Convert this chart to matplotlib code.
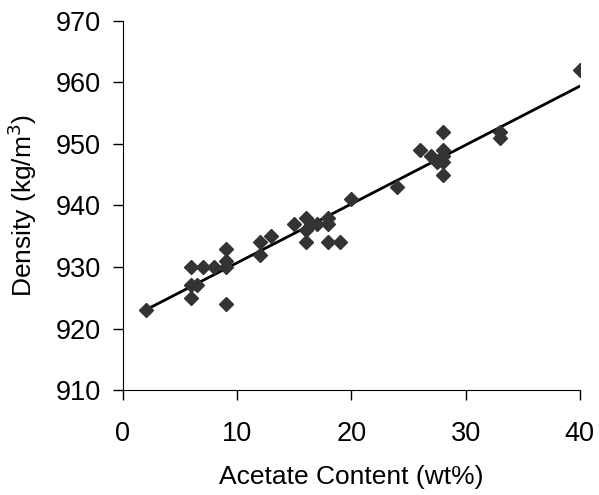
import matplotlib.pyplot as plt
import numpy as np

plt.rcParams['font.family'] = ['Liberation Sans', 'DejaVu Sans']

# Acetate content (wt%) and density (kg/m3)
acetate = [2, 6, 6, 6, 6.5, 7, 8, 9, 9, 9, 9,
           12, 12, 13, 15, 16, 16, 16, 16.5, 17, 18, 18, 18, 19, 20,
           24, 26, 27, 27.5, 28, 28, 28, 28, 28, 33, 33, 40]
density = [923, 930, 927, 925, 927, 930, 930, 933, 931, 930, 924,
           934, 932, 935, 937, 938, 936, 934, 937, 937, 938, 937, 934, 934, 941,
           943, 949, 948, 947, 952, 949, 948, 947, 945, 952, 951, 962]

x = np.array(acetate)
y = np.array(density)
k, b = np.polyfit(x, y, 1)
xl = np.array([x.min(), x.max()])

fig = plt.figure(figsize=(5.99, 4.95), dpi=100)
ax = fig.add_axes([0.205, 0.212, 0.763, 0.746])

ax.plot(xl, k * xl + b, color='black', linewidth=2, zorder=2)
ax.plot(x, y, linestyle='none', marker='D', markersize=7, color='#333333', zorder=3)

ax.set_xlim(0, 40)
ax.set_ylim(910, 970)
ax.set_xticks(range(0, 41, 10))
ax.set_yticks(range(910, 971, 10))
ax.tick_params(labelsize=19.5, direction='out', length=7, width=1)
ax.tick_params(axis='x', pad=15)
ax.tick_params(axis='y', pad=9)
ax.spines['top'].set_visible(False)
ax.spines['right'].set_visible(False)

ax.set_xlabel('Acetate Content (wt%)', fontsize=19, labelpad=13)
ax.set_ylabel('Density (kg/m$^3$)', fontsize=19, labelpad=12)

fig.savefig('out.png', dpi=100)
